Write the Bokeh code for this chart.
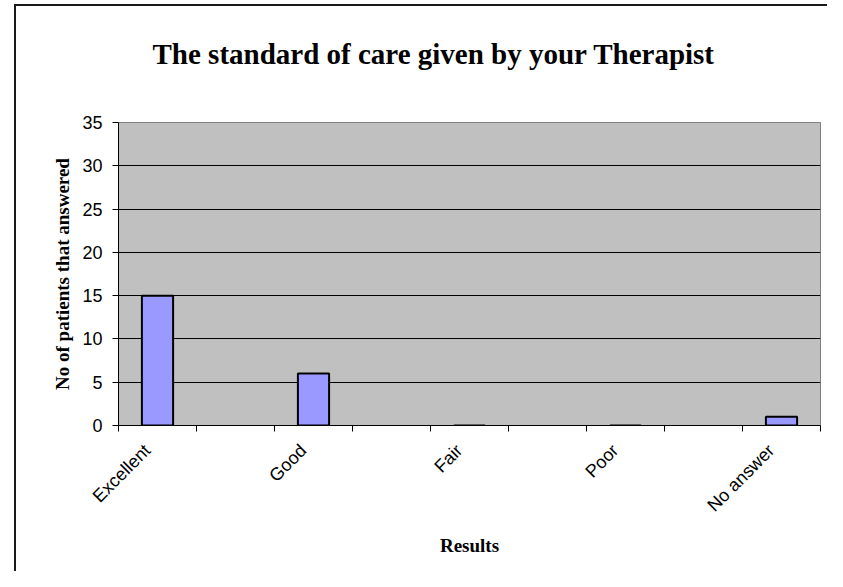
import math
from bokeh.plotting import figure
from bokeh.models import Range1d, FixedTicker, Title
from bokeh.embed import file_html
from bokeh.resources import INLINE

title_text = "The standard of care given by your Therapist"
x_title = "Results"
y_title = "No of patients that answered"
categories = ["Excellent", "Good", "Fair", "Poor", "No answer"]
counts = [15, 6, 0, 0, 1]
y_ticks = [0, 5, 10, 15, 20, 25, 30, 35]

# Excel leaves an empty slot between each answer category
slots = 2 * len(categories) - 1
xs = [2 * i + 0.5 for i in range(len(categories))]
label_shift = -0.13  # nudge rotated labels so their ends sit under the bars

frame_css = ("linear-gradient(#1a1a1a,#1a1a1a) 14px 4px / 2px 100% no-repeat, "
             "linear-gradient(#1a1a1a,#1a1a1a) 14px 4px / 100% 2px no-repeat, white")

p = figure(width=827, height=571, output_backend="svg", toolbar_location=None,
           title=None,
           x_range=Range1d(0, slots), y_range=Range1d(0, 35),
           min_border_left=118, min_border_right=7, min_border_top=122,
           min_border_bottom=146,
           styles={"background": frame_css})
p.border_fill_color = None
p.background_fill_color = "#C0C0C0"
p.outline_line_color = "#808080"
p.outline_line_width = 1

# spacer between the plot area and the title
p.add_layout(Title(text=" ", text_font_size="1px", standoff=45), "above")
p.add_layout(Title(text=title_text, align="left", offset=34,
                   text_font="Liberation Serif", text_font_style="bold",
                   text_font_size="29px", text_color="black", standoff=10), "above")

p.vbar(x=xs, top=counts, width=0.4, fill_color="#9999FF",
       line_color="black", line_width=2)

p.xgrid.visible = False
p.ygrid.ticker = FixedTicker(ticks=y_ticks)
p.ygrid.grid_line_color = "black"
p.ygrid.grid_line_width = 1

# y axis
yax = p.yaxis[0]
yax.ticker = FixedTicker(ticks=y_ticks)
yax.major_tick_in = 0
yax.major_tick_out = 6
yax.minor_tick_line_color = None
yax.axis_line_color = "black"
yax.major_tick_line_color = "black"
yax.major_label_text_font = "Liberation Sans"
yax.major_label_text_font_size = "18px"
yax.major_label_text_color = "black"
yax.major_label_standoff = 10
yax.axis_label = y_title
yax.axis_label_text_font = "Liberation Serif"
yax.axis_label_text_font_style = "bold"
yax.axis_label_text_font_size = "19px"
yax.axis_label_text_color = "black"
yax.axis_label_standoff = 6

# x axis
label_pos = [x + label_shift for x in xs]
xax = p.xaxis[0]
xax.ticker = FixedTicker(ticks=label_pos, minor_ticks=list(range(slots + 1)))
xax.major_tick_in = 0
xax.major_tick_out = 0
xax.minor_tick_in = 0
xax.minor_tick_out = 6
xax.minor_tick_line_color = "black"
xax.axis_line_color = "black"
xax.major_label_overrides = {x: c for x, c in zip(label_pos, categories)}
xax.major_label_orientation = math.pi / 4
xax.major_label_text_font = "Liberation Sans"
xax.major_label_text_font_size = "18px"
xax.major_label_text_color = "black"
xax.major_label_standoff = 16
xax.axis_label = x_title
xax.axis_label_text_font = "Liberation Serif"
xax.axis_label_text_font_style = "bold"
xax.axis_label_text_font_size = "19px"
xax.axis_label_text_color = "black"
xax.axis_label_standoff = 10

open("out.html", "w").write(file_html(p, INLINE))
